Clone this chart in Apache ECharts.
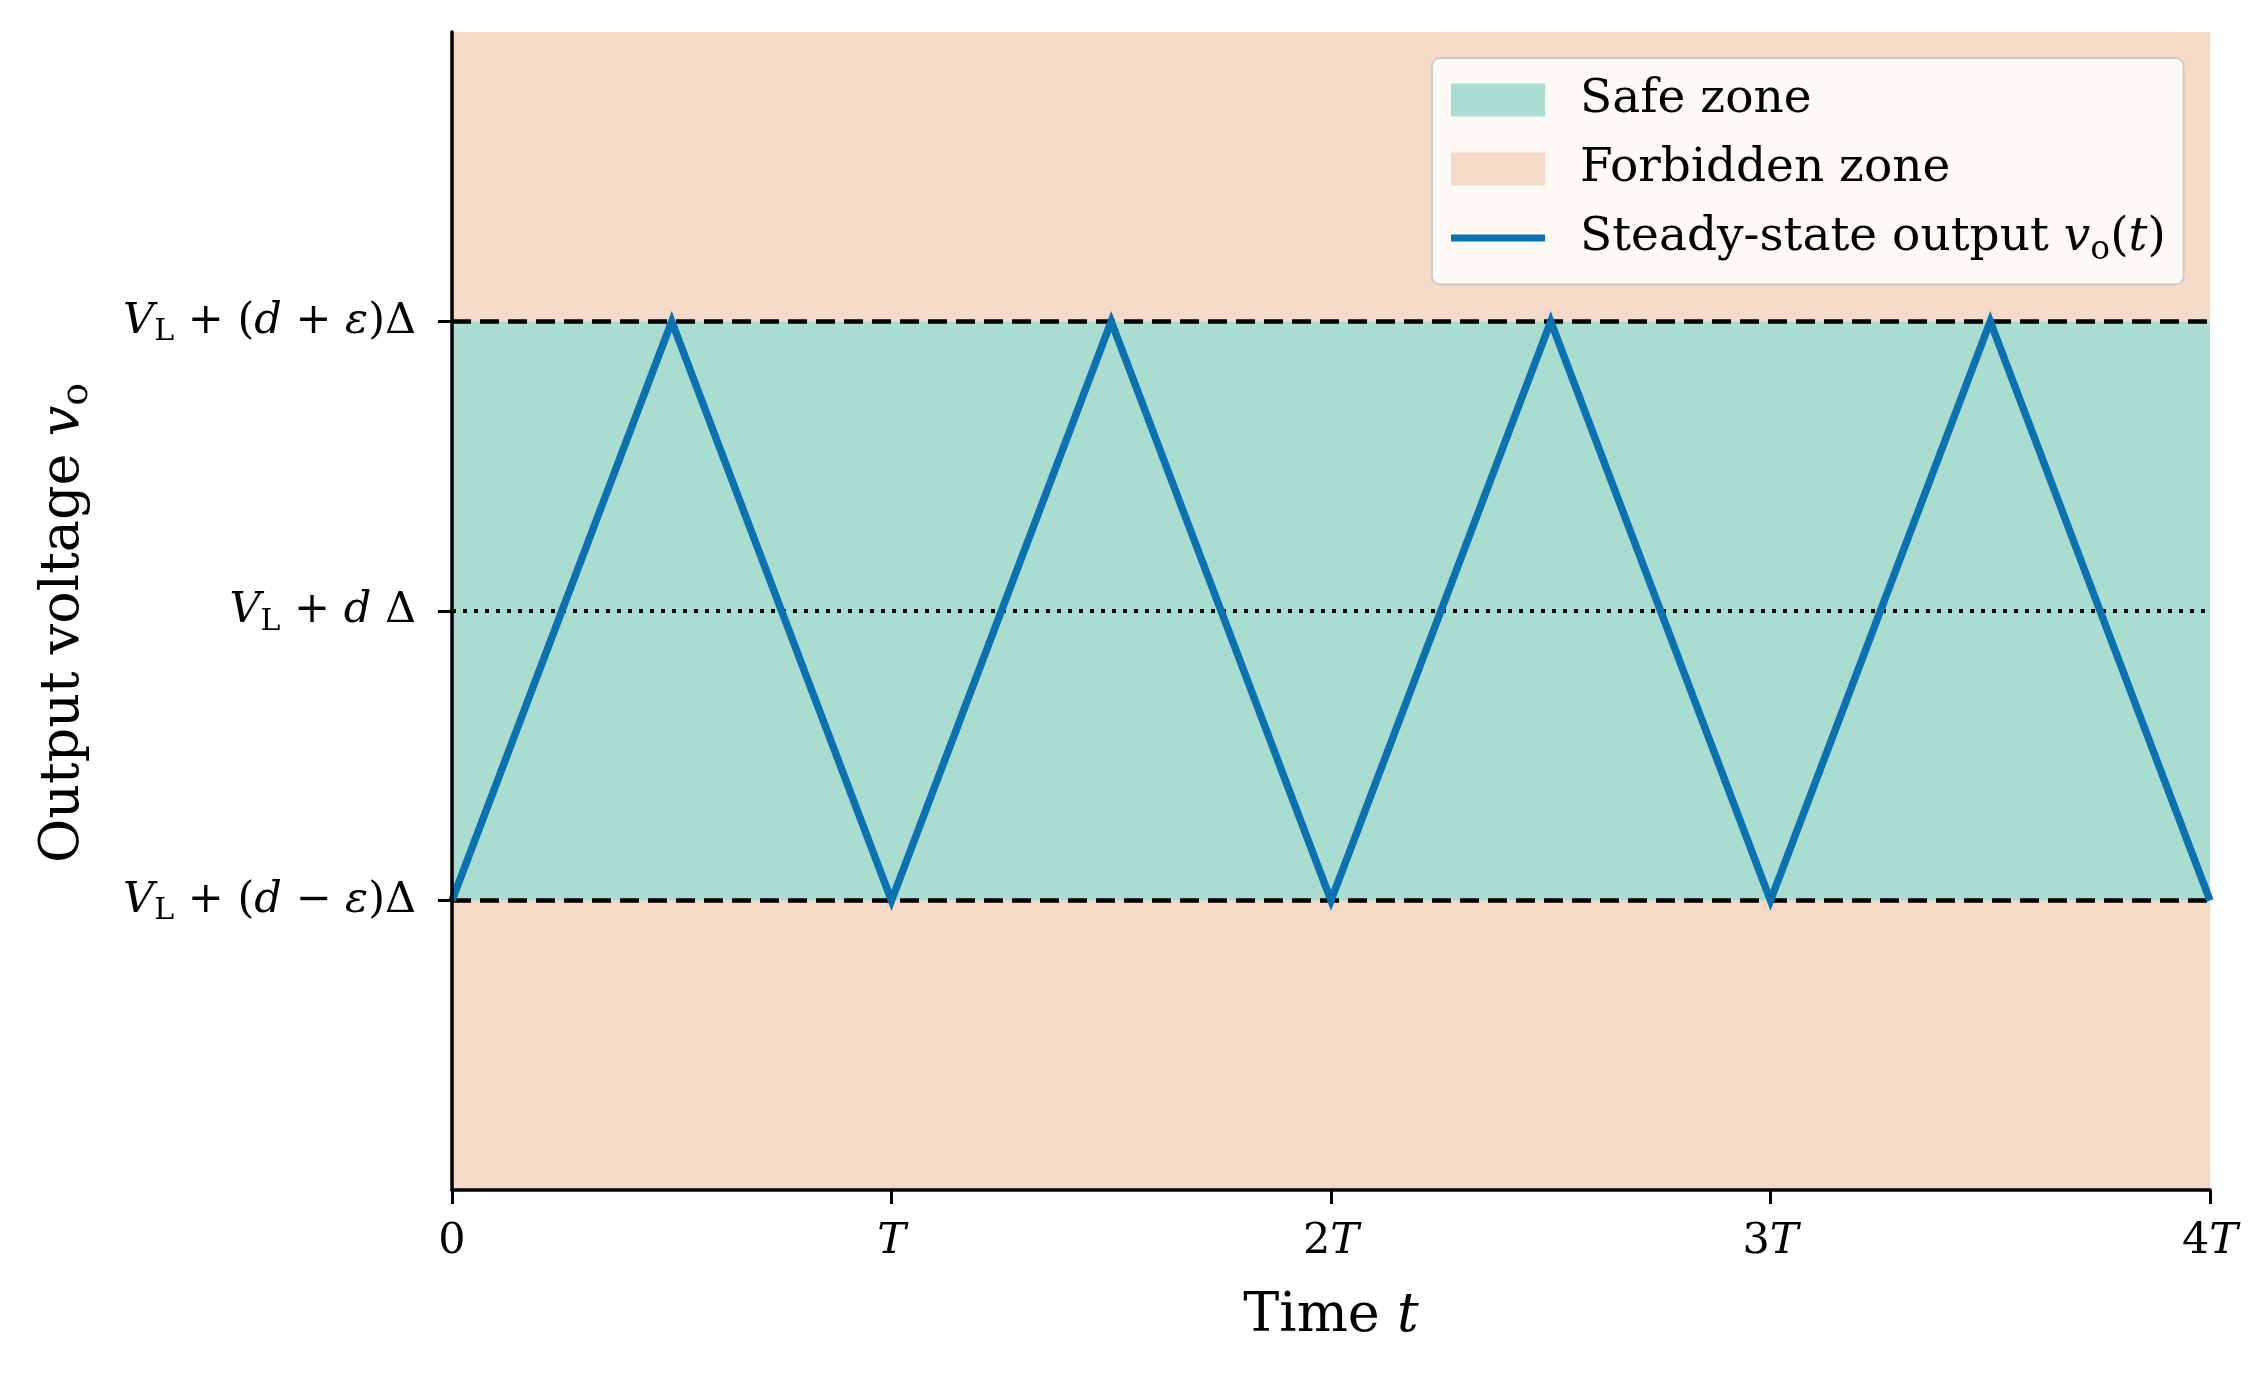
<!DOCTYPE html>
<html>
<head>
<meta charset="utf-8">
<script src="https://cdn.jsdelivr.net/npm/echarts@6/dist/echarts.min.js"></script>
<style>
html, body { margin: 0; padding: 0; background: #ffffff; }
#main { width: 2257px; height: 1374px; }
</style>
</head>
<body>
<div id="main"></div>
<script>
// time in units of T, voltage in units of eps*Delta around V_L + d*Delta
var timeT = [0, 0.5, 1, 1.5, 2, 2.5, 3, 3.5, 4];
var outputV = [-1, 1, -1, 1, -1, 1, -1, 1, -1];
var safeZone = [-1, 1];
var forbiddenZone = [-2, 2];
var xTicks = [0, 1, 2, 3, 4];
var xTickLabels = ['{r|0}', '{i|T}', '{r|2}{i|T}', '{r|3}{i|T}', '{r|4}{i|T}'];
var yTicks = [-1, 0, 1];
var yTickLabels = [
  '{i|V}{sub|L}{r| + (}{i|d}{r| − }{i|ε}{r|)Δ}',
  '{i|V}{sub|L}{r| + }{i|d}{r| Δ}',
  '{i|V}{sub|L}{r| + (}{i|d}{r| + }{i|ε}{r|)Δ}'
];

var serif = 'DejaVu Serif';
var fs = 43;
function makeRich(size, subSize, subPad) {
  return {
    r: { fontFamily: serif, fontSize: size, color: '#000' },
    i: { fontFamily: serif, fontSize: size, fontStyle: 'italic', color: '#000' },
    sub: { fontFamily: serif, fontSize: subSize, color: '#000', padding: [subPad, 0, 0, 0] }
  };
}
var rich = makeRich(fs, 30, 22);
var richLegend = makeRich(47, 33, 24);
var richBig = makeRich(54, 38, 27);

var safeColor = '#a8ddd0';
var forbidColor = '#f5dac7';
var lineColor = '#0a72b0';

var myChart = echarts.init(document.getElementById('main'));

var option = {
  animation: false,
  backgroundColor: '#ffffff',
  grid: { left: 452, right: 47, top: 32, bottom: 184 },
  legend: {
    orient: 'vertical',
    left: 1432,
    top: 58,
    z: 20,
    padding: [14, 18, 18, 19],
    itemGap: 13,
    itemWidth: 94,
    itemHeight: 33,
    symbolKeepAspect: true,
    backgroundColor: 'rgba(255,255,255,0.82)',
    borderColor: '#cccccc',
    borderWidth: 2,
    borderRadius: 8,
    textStyle: { fontFamily: serif, fontSize: 47, lineHeight: 56, padding: [0, 0, 0, 30], rich: richLegend },
    data: [
      { name: 'Safe zone', icon: 'rect', itemStyle: { color: safeColor } },
      { name: 'Forbidden zone', icon: 'rect', itemStyle: { color: forbidColor } },
      { name: 'Steady-state output', icon: 'path://M0,0 L94,0 L94,7 L0,7 Z', itemStyle: { color: lineColor } }
    ],
    formatter: function (name) {
      if (name === 'Steady-state output') {
        return '{r|Steady-state output }{i|v}{sub|o}{r|(}{i|t}{r|)}';
      }
      return '{r|' + name + '}';
    }
  },
  xAxis: {
    type: 'value',
    z: 10,
    min: 0,
    max: 4,
    interval: 1,
    name: '{r|Time }{i|t}',
    nameLocation: 'middle',
    nameGap: 100,
    nameTextStyle: { rich: richBig },
    axisLine: { show: true, onZero: false, lineStyle: { color: '#000', width: 3.5 } },
    axisTick: { show: true, length: 14, lineStyle: { color: '#000', width: 3 } },
    splitLine: { show: false },
    axisLabel: {
      margin: 30,
      rich: rich,
      formatter: function (v) {
        var k = xTicks.indexOf(v);
        return k >= 0 ? xTickLabels[k] : '';
      }
    }
  },
  yAxis: {
    type: 'value',
    z: 10,
    min: -2,
    max: 2,
    interval: 1,
    name: '{r|Output voltage }{i|v}{sub|o}',
    nameLocation: 'middle',
    nameGap: 356,
    nameTextStyle: { rich: richBig, padding: [0, 24, 0, 0] },
    axisLine: { show: true, onZero: false, lineStyle: { color: '#000', width: 3.5 } },
    axisTick: { show: true, length: 14, customValues: yTicks, lineStyle: { color: '#000', width: 3 } },
    splitLine: { show: false },
    axisLabel: {
      margin: 36,
      customValues: yTicks,
      rich: rich,
      formatter: function (v) {
        var k = yTicks.indexOf(v);
        return k >= 0 ? yTickLabels[k] : '';
      }
    }
  },
  series: [
    {
      name: 'Forbidden zone',
      type: 'line',
      data: [],
      color: forbidColor,
      z: 1,
      silent: true,
      markArea: {
        silent: true,
        itemStyle: { color: forbidColor, opacity: 1 },
        data: [[{ xAxis: timeT[0], yAxis: forbiddenZone[0] }, { xAxis: timeT[timeT.length - 1], yAxis: forbiddenZone[1] }]]
      }
    },
    {
      name: 'Safe zone',
      type: 'line',
      data: [],
      color: safeColor,
      z: 2,
      silent: true,
      markArea: {
        silent: true,
        itemStyle: { color: safeColor, opacity: 1 },
        data: [[{ xAxis: timeT[0], yAxis: safeZone[0] }, { xAxis: timeT[timeT.length - 1], yAxis: safeZone[1] }]]
      }
    },
    {
      name: 'bounds',
      type: 'line',
      data: [],
      z: 3,
      silent: true,
      markLine: {
        silent: true,
        symbol: 'none',
        label: { show: false },
        data: [
          { yAxis: safeZone[1], lineStyle: { color: '#000', width: 4.5, type: [19, 9] } },
          { yAxis: safeZone[0], lineStyle: { color: '#000', width: 4.5, type: [19, 9] } },
          { yAxis: 0, lineStyle: { color: '#000', width: 4, type: [4, 7] } }
        ]
      }
    },
    {
      name: 'Steady-state output',
      type: 'line',
      z: 5,
      symbol: 'none',
      color: lineColor,
      lineStyle: { color: lineColor, width: 7.5, join: 'miter' },
      data: timeT.map(function (t, i) { return [t, outputV[i]]; })
    }
  ]
};

myChart.setOption(option);
</script>
</body>
</html>
